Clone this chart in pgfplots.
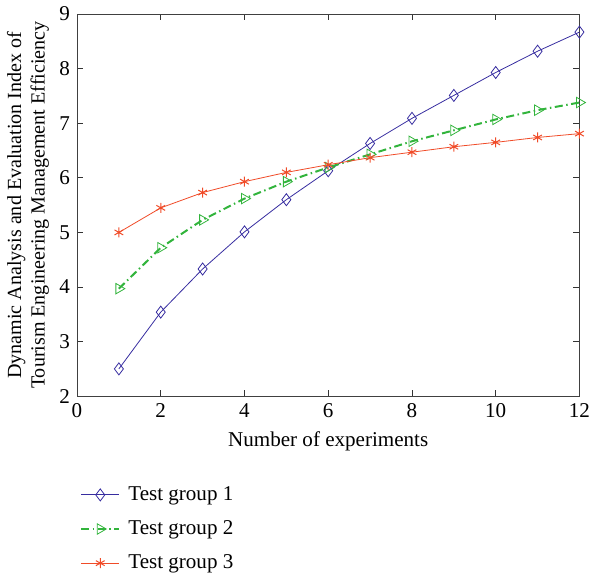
\documentclass[border=0pt]{standalone}
\usepackage{fontspec}
\setmainfont{Liberation Serif}
\usepackage{pgfplots}
\pgfplotsset{compat=1.18}

\definecolor{gOne}{RGB}{55,45,160}
\definecolor{gTwo}{RGB}{50,180,60}
\definecolor{gThree}{RGB}{240,75,40}

\begin{document}
\fontsize{21bp}{25bp}\selectfont
\begin{tikzpicture}
\begin{axis}[
    scale only axis,
    width=501bp, height=381bp,
    xmin=0, xmax=12, ymin=2, ymax=9,
    xtick={0,2,...,12}, ytick={2,3,...,9},
    /pgf/number format/assume math mode=true,
    tick style={black!80, line width=0.8pt},
    major tick length=6bp,
    axis line style={black!75, line width=0.9pt},
    xlabel={Number of experiments},
    ylabel={Dynamic Analysis and Evaluation Index of\\Tourism Engineering Management Efficiency},
    ylabel style={align=center, yshift=-4bp, font=\fontsize{20bp}{23.5bp}\selectfont},
    legend style={at={(0,-0.225)}, anchor=north west, draw=none, fill=none,
        row sep=13bp, font=\fontsize{21bp}{25bp}\selectfont,
        nodes={inner xsep=8bp}},
    legend cell align=left,
    legend image code/.code={
        \draw[mark repeat=2, mark phase=2]
        plot coordinates {(0bp,0bp) (19bp,0bp) (38bp,0bp)};
    },
]
\addplot[gOne, line width=0.8pt, mark=diamond, mark size=6bp, mark options={solid, line width=0.8pt}] coordinates {
    (1,2.50) (2,3.54) (3,4.33) (4,5.01) (5,5.60) (6,6.13)
    (7,6.63) (8,7.09) (9,7.51) (10,7.93) (11,8.32) (12,8.67)
};
\addlegendentry{Test group 1}
\addplot[gTwo, line width=2pt, dash pattern=on 8bp off 3.5bp on 1.5bp off 3.5bp, mark=triangle, mark size=6bp, mark options={solid, rotate=-90, line width=0.8pt}] coordinates {
    (1,3.97) (2,4.72) (3,5.23) (4,5.62) (5,5.93) (6,6.19)
    (7,6.43) (8,6.67) (9,6.87) (10,7.07) (11,7.24) (12,7.38)
};
\addlegendentry{Test group 2}
\addplot[gThree, line width=0.8pt, mark=asterisk, mark size=5bp, mark options={solid, line width=1pt}] coordinates {
    (1,5.00) (2,5.45) (3,5.73) (4,5.93) (5,6.10) (6,6.24)
    (7,6.37) (8,6.47) (9,6.57) (10,6.65) (11,6.74) (12,6.81)
};
\addlegendentry{Test group 3}
\end{axis}
\end{tikzpicture}
\end{document}
